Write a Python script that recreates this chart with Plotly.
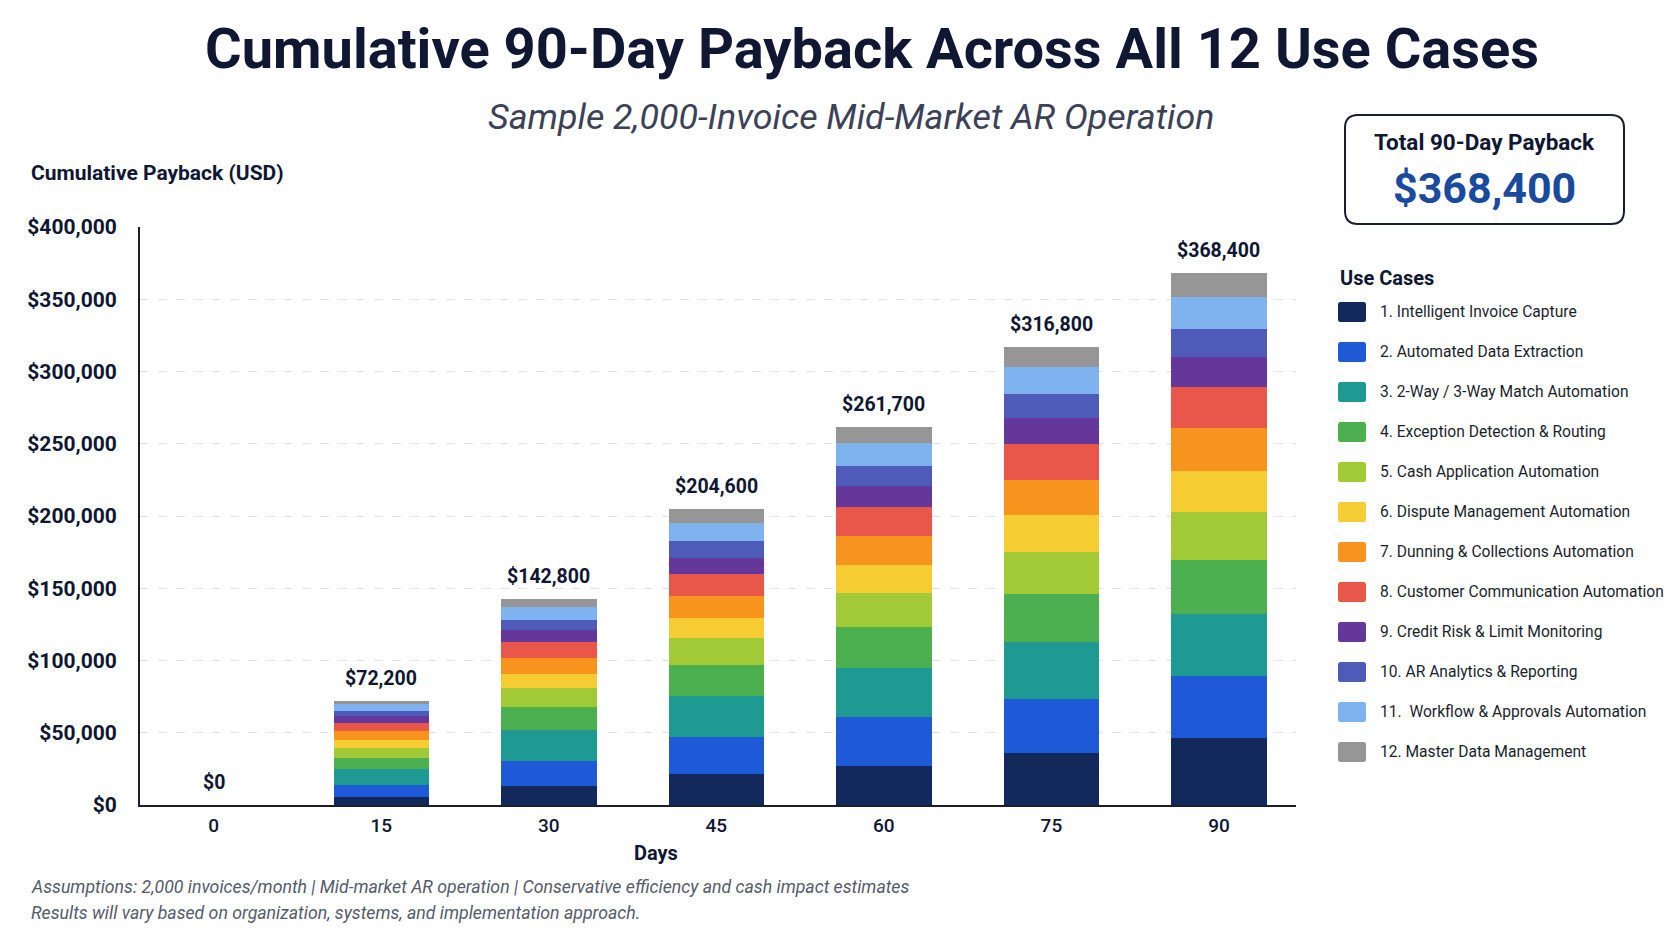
import plotly.graph_objects as go

# ---------------- data ----------------
days = ["0", "15", "30", "45", "60", "75", "90"]

use_cases = [
    "1. Intelligent Invoice Capture",
    "2. Automated Data Extraction",
    "3. 2-Way / 3-Way Match Automation",
    "4. Exception Detection & Routing",
    "5. Cash Application Automation",
    "6. Dispute Management Automation",
    "7. Dunning & Collections Automation",
    "8. Customer Communication Automation",
    "9. Credit Risk & Limit Monitoring",
    "10. AR Analytics & Reporting",
    "11.  Workflow & Approvals Automation",
    "12. Master Data Management",
]

colors = [
    "#13295B", "#1E5AD8", "#1F9A93", "#4CAF50", "#A2C936", "#F5CD32",
    "#F7941D", "#E9574A", "#66379A", "#4F5BB8", "#7EB3EF", "#969696",
]

# cumulative payback per use case (USD) at day 0, 15, 30, 45, 60, 75, 90
uc1 = [0, 5500, 13000, 21200, 27300, 35900, 46500]
uc2 = [0, 8100, 17600, 25800, 33500, 37500, 42800]
uc3 = [0, 11100, 21100, 28300, 34000, 39600, 42600]
uc4 = [0, 8100, 16000, 21900, 28200, 33300, 37400]
uc5 = [0, 6500, 13000, 18400, 23800, 29000, 33200]
uc6 = [0, 5800, 10200, 14100, 19600, 25100, 28700]
uc7 = [0, 5800, 10700, 15000, 19900, 24800, 30000]
uc8 = [0, 6000, 11100, 15200, 20100, 24300, 28200]
uc9 = [0, 4400, 8300, 11300, 14600, 18000, 20600]
uc10 = [0, 3700, 6700, 11300, 13900, 16900, 19600]
uc11 = [0, 4600, 9000, 12900, 15500, 18500, 22200]
uc12 = [0, 2600, 6100, 9200, 11300, 13900, 16600]

series = [uc1, uc2, uc3, uc4, uc5, uc6, uc7, uc8, uc9, uc10, uc11, uc12]
totals = [sum(s[i] for s in series) for i in range(len(days))]

y_ticks = [0, 50000, 100000, 150000, 200000, 250000, 300000, 350000, 400000]

# ---------------- layout geometry ----------------
W, H = 1672, 941
L, R, T, B = 140, 1296, 227, 805
FONT = "Roboto"
DARK = "#0F1733"


def px(x):
    return (x - L) / (R - L)


def py(y):
    return (B - y) / (B - T)


fig = go.Figure()

for name, vals, col in zip(use_cases, series, colors):
    fig.add_trace(go.Bar(
        x=days, y=vals, name=name,
        marker=dict(color=col, line=dict(width=0)),
        showlegend=False,
        hovertemplate="%{x} days<br>" + name + ": $%{y:,.0f}<extra></extra>",
    ))

fig.update_layout(
    width=W, height=H,
    margin=dict(l=L, r=W - R, t=T, b=H - B),
    paper_bgcolor="white", plot_bgcolor="white",
    barmode="stack", bargap=0.43,
    font=dict(family=FONT, color=DARK),
    showlegend=False,
)

fig.update_yaxes(
    range=[0, 400000], tickvals=y_ticks, tickformat="$,.0f",
    tickfont=dict(family=FONT, size=21, color=DARK, weight="bold"),
    showgrid=True, gridcolor="#E4E4E4", griddash="dash", gridwidth=1,
    showline=True, linecolor="#1A1F2E", linewidth=2,
    zeroline=False, ticks="", ticklabelstandoff=17, fixedrange=True,
)
fig.update_xaxes(
    type="category", range=[-0.44, len(days) - 0.54],
    tickfont=dict(family=FONT, size=19, color=DARK, weight=500),
    showline=True, linecolor="#1A1F2E", linewidth=2,
    showgrid=False, ticks="", ticklabelstandoff=2, fixedrange=True,
)

ann = []
# bar totals (x given as category index)
for i, t in enumerate(totals):
    ann.append(dict(text="${:,.0f}".format(t), x=i, y=t, xref="x", yref="y",
                    showarrow=False, xanchor="center", yanchor="bottom", yshift=9,
                    font=dict(family=FONT, size=19.5, color=DARK, weight="bold")))
# title & subtitle
ann.append(dict(text="Cumulative 90-Day Payback Across All 12 Use Cases",
                x=px(872), y=py(49), xref="paper", yref="paper",
                showarrow=False, xanchor="center", yanchor="middle",
                font=dict(family=FONT, size=56, color=DARK, weight="bold")))
ann.append(dict(text="<i>Sample 2,000-Invoice Mid-Market AR Operation</i>",
                x=px(851), y=py(117), xref="paper", yref="paper",
                showarrow=False, xanchor="center", yanchor="middle",
                font=dict(family=FONT, size=35.8, color="#3B4257", weight=400)))
# y-axis title
ann.append(dict(text="Cumulative Payback (USD)", x=px(29), y=py(173),
                xref="paper", yref="paper", showarrow=False,
                xanchor="left", yanchor="middle",
                font=dict(family=FONT, size=21, color=DARK, weight="bold")))
# x-axis title
ann.append(dict(text="Days", x=px(656), y=py(853), xref="paper", yref="paper",
                showarrow=False, xanchor="center", yanchor="middle",
                font=dict(family=FONT, size=20, color=DARK, weight="bold")))
# footnote
ann.append(dict(text="<i>Assumptions: 2,000 invoices/month | Mid-market AR operation | "
                     "Conservative efficiency and cash impact estimates</i>",
                x=px(29), y=py(887), xref="paper", yref="paper", showarrow=False,
                xanchor="left", yanchor="middle",
                font=dict(family=FONT, size=17.7, color="#555B6B")))
ann.append(dict(text="<i>Results will vary based on organization, systems, and "
                     "implementation approach.</i>",
                x=px(29), y=py(913), xref="paper", yref="paper", showarrow=False,
                xanchor="left", yanchor="middle",
                font=dict(family=FONT, size=17.7, color="#555B6B")))
# total box
ann.append(dict(text="Total 90-Day Payback", x=px(1484), y=py(142),
                xref="paper", yref="paper", showarrow=False,
                xanchor="center", yanchor="middle",
                font=dict(family=FONT, size=22.5, color=DARK, weight="bold")))
ann.append(dict(text="${:,.0f}".format(totals[-1]), x=px(1484), y=py(188),
                xref="paper", yref="paper", showarrow=False,
                xanchor="center", yanchor="middle",
                font=dict(family=FONT, size=43, color="#1A4A9E", weight="bold")))
# legend title
ann.append(dict(text="Use Cases", x=px(1338), y=py(278), xref="paper", yref="paper",
                showarrow=False, xanchor="left", yanchor="middle",
                font=dict(family=FONT, size=20, color=DARK, weight="bold")))

shapes = []


def rounded(hw, hh, r):
    return (f"M {-hw + r},{-hh} L {hw - r},{-hh} Q {hw},{-hh} {hw},{-hh + r} "
            f"L {hw},{hh - r} Q {hw},{hh} {hw - r},{hh} L {-hw + r},{hh} "
            f"Q {-hw},{hh} {-hw},{hh - r} L {-hw},{-hh + r} Q {-hw},{-hh} {-hw + r},{-hh} Z")


shapes.append(dict(type="path", xref="paper", yref="paper",
                   xsizemode="pixel", ysizemode="pixel",
                   xanchor=px(1484.5), yanchor=py(169.5),
                   path=rounded(139.5, 54.5, 13),
                   line=dict(color="#1A1F2E", width=2), fillcolor="white",
                   layer="below"))

# custom legend
for i, (name, col) in enumerate(zip(use_cases, colors)):
    yc = 312 + 40 * i
    shapes.append(dict(type="path", xref="paper", yref="paper",
                       xsizemode="pixel", ysizemode="pixel",
                       xanchor=px(1352), yanchor=py(yc),
                       path=rounded(14, 10, 2.5),
                       line=dict(width=0), fillcolor=col))
    ann.append(dict(text=name, x=px(1378), y=py(yc), xref="paper", yref="paper",
                    showarrow=False, xanchor="left", yanchor="middle",
                    font=dict(family=FONT, size=15.6, color="#1A1F2E")))

fig.update_layout(annotations=ann, shapes=shapes)

fig.write_html("out.html")
